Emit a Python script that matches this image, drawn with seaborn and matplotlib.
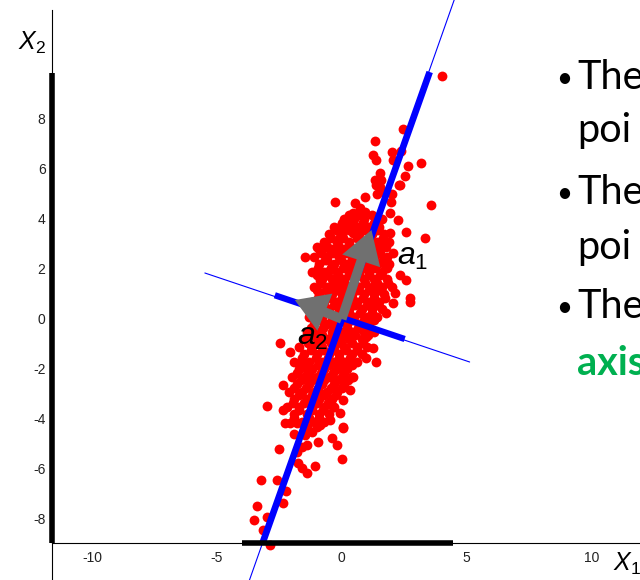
import matplotlib
matplotlib.use('Agg')
import pandas as pd
import matplotlib.pyplot as plt
import seaborn as sns

# Red sample points: scattered outer points
outer_x = [4.0, 2.45, 1.32, 1.25, 1.39, 2.03, 2.39, 3.19, 2.65, 2.05, 2.52, 1.52, 1.32, 1.59, 2.29, 1.52,
           1.4, 1.7, 2.0, -0.28, 0.92, 0.52, 0.72, 0.45, 0.92, 1.99, 1.39, 2.32, 3.59, 1.92, 2.25, -0.08,
           0.32, 0.85, 2.59, 3.32, -0.08, 0.45, -1.01, -0.55, -0.08, -1.48, -0.68, 1.92, 1.79, 2.05, 1.65,
           2.32, 2.59, 2.72, 2.12, -0.48, -0.21, -0.88, -1.01, -0.48,
           -2.48, -2.08, -1.68, -2.35, -3.01, 1.39, 1.25, 0.99, 1.79, 2.05, 2.72, 0.32, 0.05, -0.35, -0.08,
           -0.48, 0.05, -2.35, -2.08, -0.88, -0.75, -1.41, 0.45, 0.99,
           -2.28, -1.81, -0.88, 0.05, -1.48, -0.95, -0.41, -0.21, -1.41, -0.01, -1.75, -1.61, -1.08, -1.41,
           -3.24, -2.59, -2.24, -2.35, -3.39, -2.99, -3.51, -3.15, -2.88, -1.8, -1.6, -1.2, -1.9, -2.5]
outer_y = [9.73, 7.6, 7.12, 6.56, 6.36, 6.69, 6.73, 6.23, 6.12, 6.36, 5.73, 5.83, 5.56, 5.56, 5.36, 5.29,
           5.0, 5.1, 5.0, 4.69, 4.89, 4.63, 4.43, 4.23, 4.29, 4.69, 5.36, 5.36, 4.56, 4.23, 3.96, 3.69,
           3.83, 3.83, 3.49, 3.23, 3.29, 3.43, 2.89, 2.83, 2.76, 2.47, 2.36, 3.43, 2.89, 2.63, 2.23,
           1.76, 1.56, 0.83, 1.03, 1.96, 1.56, 1.56, 1.16, 1.29,
           -0.97, -1.31, -1.77, -2.64, -3.47, -1.71, -1.17, -0.71, 0.23, 0.63, 0.69, -2.84, -3.24, -3.51, -3.77,
           -4.04, -4.31, -3.64, -4.17, -2.97, -2.31, -2.04, -2.31, -1.57,
           -4.17, -4.17, -4.24, -4.37, -4.64, -4.91, -4.77, -5.04, -5.04, -5.61, -5.77, -5.97, -5.88, -6.17,
           -6.44, -6.44, -6.87, -7.37, -7.47, -7.91, -8.04, -8.44, -9.04, -5.3, -5.1, -4.5, -4.6, -5.2]

# Dense core of the cloud, one row per height: (y, x positions)
core_rows = [
    (4.0, [0.1, 0.5, 0.9, 1.6]),
    (3.7, [-0.3, 0.2, 0.6, 1.1, 1.5]),
    (3.4, [-0.5, 0.0, 0.7, 1.2, 1.7]),
    (3.1, [-0.7, -0.2, 0.3, 0.9, 1.4, 1.9]),
    (2.8, [-0.9, -0.4, 0.1, 0.5, 1.0, 1.5]),
    (2.5, [-1.1, -0.6, -0.1, 0.4, 0.8, 1.3, 1.8]),
    (2.2, [-0.9, -0.3, 0.2, 0.6, 1.0, 1.4, 1.9]),
    (1.9, [-1.2, -0.7, -0.2, 0.3, 0.7, 1.1, 1.6]),
    (1.6, [-0.8, -0.4, 0.1, 0.5, 0.9, 1.3, 1.8]),
    (1.3, [-1.1, -0.6, -0.1, 0.3, 0.7, 1.2, 1.6, 2.0]),
    (1.0, [-0.9, -0.4, 0.0, 0.4, 0.9, 1.3, 1.7]),
    (0.7, [-1.2, -0.7, -0.2, 0.2, 0.6, 1.1, 1.5]),
    (0.4, [-1.0, -0.5, -0.1, 0.3, 0.8, 1.2, 1.6]),
    (0.1, [-1.3, -0.8, -0.3, 0.1, 0.5, 1.0, 1.4]),
    (-0.2, [-1.1, -0.6, -0.2, 0.2, 0.7, 1.1]),
    (-0.5, [-1.4, -0.9, -0.4, 0.0, 0.4, 0.9, 1.3]),
    (-0.8, [-1.5, -1.0, -0.6, -0.1, 0.3, 0.8]),
    (-1.1, [-1.7, -1.2, -0.8, -0.3, 0.1, 0.6, 1.0]),
    (-1.4, [-1.5, -1.0, -0.5, -0.1, 0.4, 0.8]),
    (-1.7, [-1.9, -1.3, -0.8, -0.3, 0.1, 0.6]),
    (-2.0, [-1.7, -1.2, -0.7, -0.2, 0.2]),
    (-2.3, [-2.0, -1.5, -1.0, -0.5, 0.0, 0.4]),
    (-2.6, [-1.8, -1.3, -0.8, -0.3, 0.1]),
    (-2.9, [-2.1, -1.6, -1.1, -0.6, -0.2]),
    (-3.2, [-1.9, -1.4, -0.9, -0.4]),
    (-3.5, [-2.2, -1.7, -1.2, -0.7, -0.3]),
    (-3.8, [-1.9, -1.4, -0.9, -0.5]),
    (-4.1, [-1.6, -1.1, -0.7]),
]
# second, staggered layer of the core
core_rows_b = [
    (4.15, [0.3, 0.7, 1.2]),
    (3.85, [0.0, 0.4, 0.85, 1.3]),
    (3.55, [-0.25, 0.3, 0.95, 1.45]),
    (3.25, [-0.45, 0.05, 0.6, 1.15, 1.65]),
    (2.95, [-0.65, -0.15, 0.3, 0.75, 1.25, 1.75]),
    (2.65, [-0.85, -0.35, 0.15, 0.6, 1.05, 1.55]),
    (2.35, [-0.6, -0.05, 0.4, 0.8, 1.2, 1.65]),
    (2.05, [-0.95, -0.45, 0.05, 0.5, 0.9, 1.35, 1.8]),
    (1.75, [-1.0, -0.6, -0.15, 0.3, 0.7, 1.1, 1.55]),
    (1.45, [-0.85, -0.35, 0.1, 0.5, 0.95, 1.4, 1.85]),
    (1.15, [-0.65, -0.2, 0.2, 0.65, 1.1, 1.5]),
    (0.85, [-0.95, -0.45, 0.0, 0.4, 0.85, 1.3, 1.75]),
    (0.55, [-0.75, -0.3, 0.1, 0.55, 1.0, 1.4]),
    (0.25, [-1.05, -0.55, -0.1, 0.3, 0.75, 1.2]),
    (-0.05, [-0.85, -0.4, 0.0, 0.45, 0.9, 1.3]),
    (-0.35, [-1.25, -0.75, -0.3, 0.2, 0.65, 1.1]),
    (-0.65, [-1.2, -0.8, -0.35, 0.1, 0.55, 1.05]),
    (-0.95, [-1.35, -0.9, -0.45, -0.05, 0.4, 0.85]),
    (-1.25, [-1.25, -0.75, -0.3, 0.15, 0.6]),
    (-1.55, [-1.6, -1.05, -0.55, -0.1, 0.35]),
    (-1.85, [-1.45, -0.95, -0.5, -0.05, 0.4]),
    (-2.15, [-1.8, -1.3, -0.85, -0.35, 0.1]),
    (-2.45, [-1.65, -1.2, -0.7, -0.2, 0.25]),
    (-2.75, [-1.9, -1.45, -0.95, -0.45, 0.0]),
    (-3.05, [-1.7, -1.2, -0.7, -0.25]),
    (-3.35, [-1.95, -1.5, -1.0, -0.55]),
    (-3.65, [-1.7, -1.2, -0.75]),
    (-3.95, [-1.9, -1.3, -0.9]),
    (-4.3, [-1.4, -1.0]),
]

# Principal axes (data units)
pc1_line = [(-3.75, 4.55), (-10.6, 12.9)]      # thin line, x pair / y pair
pc1_thick = [(-3.17, 3.52), (-8.96, 9.88)]
pc2_line = [(-5.48, 5.12), (1.84, -1.72)]
pc2_thick = [(-2.68, 2.52), (0.95, -0.80)]
a1_tip = (1.19, 3.56)
a2_tip = (-1.88, 0.76)

# Projections of the cloud on the two axes
proj_x = (-4.01, 4.44)
proj_y = (-8.96, 9.84)

x_ticks = [-10, -5, 0, 5, 10]
y_ticks = [-8, -6, -4, -2, 0, 2, 4, 6, 8]

# slide text beside the plot (cut off by the right edge, as in the screenshot)
slide_words = ['The', 'poi', 'The', 'poi', 'The', 'axis']
slide_bullet = [True, False, True, False, True, False]
slide_colors = ['black', 'black', 'black', 'black', 'black', '#00b050']
slide_weights = ['normal'] * 5 + ['bold']
slide_baselines = [89, 142, 204, 259, 318, 375]   # pixels from top

px = list(outer_x)
py = list(outer_y)
for yv, xs in core_rows + core_rows_b:
    px += xs
    py += [yv] * len(xs)
df = pd.DataFrame({'x1': px, 'x2': py})

sns.set_style('white')
plt.rcParams['font.family'] = ['Liberation Sans', 'DejaVu Sans']
plt.rcParams['mathtext.fontset'] = 'custom'
plt.rcParams['mathtext.it'] = 'Liberation Sans:italic'
plt.rcParams['mathtext.rm'] = 'Liberation Sans'
plt.rcParams['axes.unicode_minus'] = False
plt.rcParams['text.color'] = 'black'

fig = plt.figure(figsize=(6.4, 5.8), dpi=100)
ax = fig.add_axes([51.5 / 640, 0, 1 - 51.5 / 640, 1])
ax.set_xlim(-11.62, 11.94)
ax.set_ylim(-10.44, 12.76)

sns.scatterplot(data=df, x='x1', y='x2', color='#ff0000', s=50, linewidth=0, ax=ax, zorder=2)

ax.plot(*pc1_line, color='#0000ff', lw=0.8, zorder=3)
ax.plot(*pc2_line, color='#0000ff', lw=0.8, zorder=3)
ax.plot(*pc1_thick, color='#0000ff', lw=4.8, solid_capstyle='butt', zorder=3)
ax.plot(*pc2_thick, color='#0000ff', lw=4.5, solid_capstyle='butt', zorder=3)

for tip in (a1_tip, a2_tip):
    ax.arrow(0, 0, tip[0], tip[1], width=0.38, head_width=1.6, head_length=1.3,
             length_includes_head=True, fc='#707070', ec='none', zorder=4)

ax.plot(proj_x, [proj_y[0]] * 2, color='black', lw=4, solid_capstyle='butt', zorder=5, clip_on=False)
ax.plot([-11.62] * 2, proj_y, color='black', lw=4, solid_capstyle='butt', zorder=5, clip_on=False)

ax.text(2.2, 2.16, '$a_1$', fontsize=23, color='black', zorder=6)
ax.text(-1.8, -1.04, '$a_2$', fontsize=23, color='black', zorder=6)

ax.set_xticks(x_ticks)
ax.set_yticks(y_ticks)
ax.set_xlabel('')
ax.set_ylabel('')
ax.spines['top'].set_visible(False)
ax.spines['right'].set_visible(False)
ax.spines['bottom'].set_position(('data', -8.96))
ax.spines['left'].set_bounds(-10.44, 12.36)
for s in ('left', 'bottom'):
    ax.spines[s].set_linewidth(0.8)
    ax.spines[s].set_color('black')
ax.tick_params(axis='x', direction='in', length=4, width=0.8, labelsize=10, pad=5.5, colors='#222222')
ax.tick_params(axis='y', direction='in', length=4, width=0.8, labelsize=10, pad=4.3, colors='#222222')
ax.set_facecolor('none')

fig.text(18 / 640, 1 - 50 / 580, '$X_2$', fontsize=18, color='black')
fig.text(613 / 640, 1 - 571 / 580, '$X_1$', fontsize=18, color='black')

for word, bul, col, weight, yb in zip(slide_words, slide_bullet, slide_colors, slide_weights, slide_baselines):
    base = 1 - yb / 580
    if bul:
        fig.text(556 / 640, base + 2 / 580, '•', fontsize=20, family=['Lato', 'DejaVu Sans'], color=col)
    fig.text(577 / 640, base, word, fontsize=28.5, family=['Lato', 'DejaVu Sans'], color=col,
             fontweight=weight)

fig.savefig('out.png', dpi=100)
